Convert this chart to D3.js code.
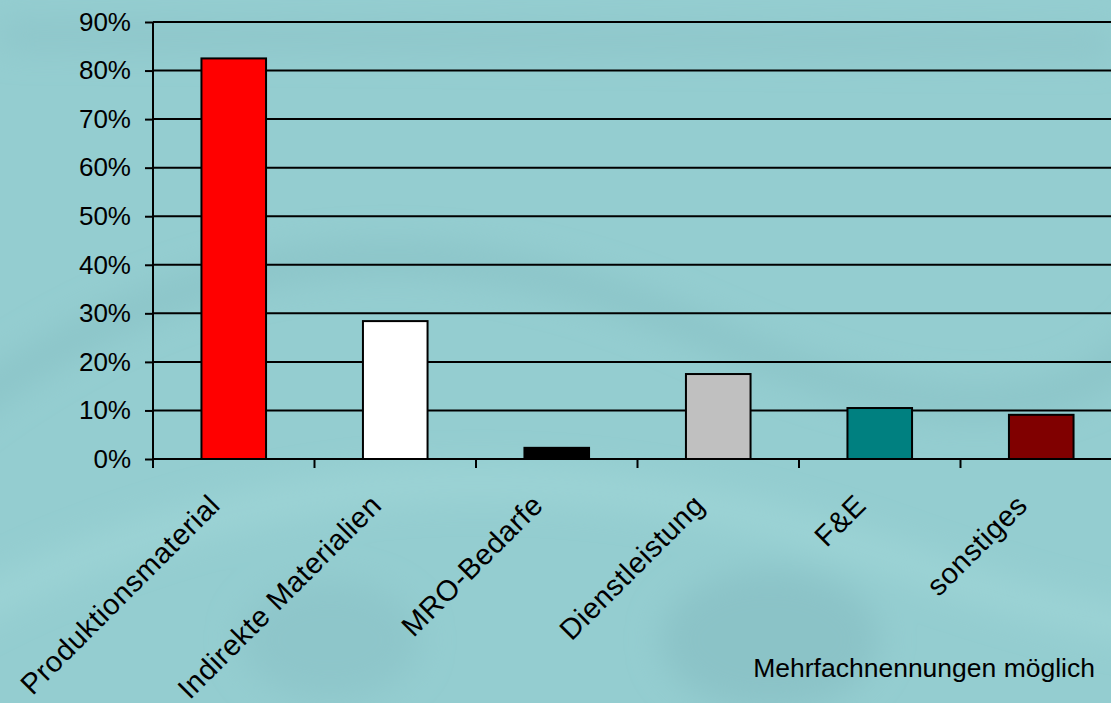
<!DOCTYPE html>
<html>
<head>
<meta charset="utf-8">
<script src="https://cdn.jsdelivr.net/npm/d3@7"></script>
<style>
  html, body { margin: 0; padding: 0; overflow: hidden; }
  svg { display: block; font-family: "Liberation Sans", Arial, sans-serif; }
</style>
</head>
<body>
<svg id="chart" width="1111" height="703"></svg>
<script>
// Daten
const categories = ["Produktionsmaterial", "Indirekte Materialien", "MRO-Bedarfe", "Dienstleistung", "F&E", "sonstiges"];
const values = [0.825, 0.284, 0.023, 0.175, 0.105, 0.091];
const barColors = ["#ff0000", "#ffffff", "#000000", "#c0c0c0", "#008080", "#800000"];
const yTicks = [0, 0.1, 0.2, 0.3, 0.4, 0.5, 0.6, 0.7, 0.8, 0.9];
const note = "Mehrfachnennungen möglich";

const width = 1111, height = 703;
const svg = d3.select("#chart");

// Hintergrund (Foto-Textur nur angedeutet)
const defs = svg.append("defs");
defs.append("filter").attr("id", "blur")
    .append("feGaussianBlur").attr("stdDeviation", 16);
svg.append("rect").attr("width", width).attr("height", height).attr("fill", "#94cdd0");
const deco = svg.append("g").attr("filter", "url(#blur)").attr("fill", "none");
deco.append("path").attr("d", "M-50,420 Q300,150 700,330 T1200,250").attr("stroke", "#8bc4c8").attr("stroke-width", 30);
deco.append("path").attr("d", "M-50,620 Q400,380 900,560 T1200,450").attr("stroke", "#9dd4d6").attr("stroke-width", 30);
deco.append("path").attr("d", "M0,35 L1111,45").attr("stroke", "#8dc5c9").attr("stroke-width", 24);
deco.append("ellipse").attr("cx", 770).attr("cy", 640).attr("rx", 110).attr("ry", 70).attr("fill", "#8bc3c7");
deco.append("ellipse").attr("cx", 330).attr("cy", 640).attr("rx", 90).attr("ry", 60).attr("fill", "#8ec6ca");

// Skalen
const x = d3.scaleBand()
    .domain(categories)
    .range([153, 1122])
    .paddingInner(0.6)
    .paddingOuter(0.3);

const y = d3.scaleLinear()
    .domain([0, 0.9])
    .range([459, 22]);

// Gitterlinien
svg.append("g")
    .selectAll("line")
    .data(yTicks.slice(1))
    .join("line")
    .attr("x1", 153).attr("x2", width)
    .attr("y1", d => y(d)).attr("y2", d => y(d))
    .attr("stroke", "#000").attr("stroke-width", 2);

// Balken
svg.append("g")
    .selectAll("rect")
    .data(categories)
    .join("rect")
    .attr("x", d => x(d))
    .attr("y", (d, i) => y(values[i]))
    .attr("width", x.bandwidth())
    .attr("height", (d, i) => y(0) - y(values[i]))
    .attr("fill", (d, i) => barColors[i])
    .attr("stroke", "#000")
    .attr("stroke-width", 2);

// y-Achse
const yAxis = svg.append("g")
    .attr("transform", "translate(153,0)")
    .call(d3.axisLeft(y).tickValues(yTicks).tickFormat(d3.format(".0%")).tickSize(8).tickPadding(14));
yAxis.select(".domain").remove();
yAxis.append("line").attr("x1", 0).attr("x2", 0).attr("y1", y(0.9)).attr("y2", 468)
    .attr("stroke", "#000").attr("stroke-width", 2);
yAxis.selectAll(".tick line").attr("stroke", "#000").attr("stroke-width", 2);
yAxis.selectAll(".tick text").attr("fill", "#000").style("font-size", "26px")
    .attr("font-family", "Liberation Sans, Arial, sans-serif");

// x-Achse
const step = x.step();
const boundaries = d3.range(categories.length + 1).map(i => 153 + i * step);
svg.append("line").attr("x1", 153).attr("x2", width).attr("y1", y(0)).attr("y2", y(0))
    .attr("stroke", "#000").attr("stroke-width", 2);
svg.append("g")
    .selectAll("line")
    .data(boundaries.slice(1))
    .join("line")
    .attr("x1", d => d).attr("x2", d => d)
    .attr("y1", y(0)).attr("y2", 468)
    .attr("stroke", "#000").attr("stroke-width", 2);

// Kategorienbeschriftung (45° gedreht)
svg.append("g")
    .selectAll("text")
    .data(categories)
    .join("text")
    .attr("transform", d => `translate(${x(d) + x.bandwidth() / 2 - 12},507) rotate(-45)`)
    .attr("text-anchor", "end")
    .attr("font-size", 29)
    .attr("letter-spacing", 0.6)
    .attr("fill", "#000")
    .text(d => d);

// Hinweis
svg.append("text")
    .attr("x", 1095).attr("y", 677)
    .attr("text-anchor", "end")
    .attr("font-size", 26.5)
    .attr("fill", "#000")
    .text(note);
</script>
</body>
</html>
